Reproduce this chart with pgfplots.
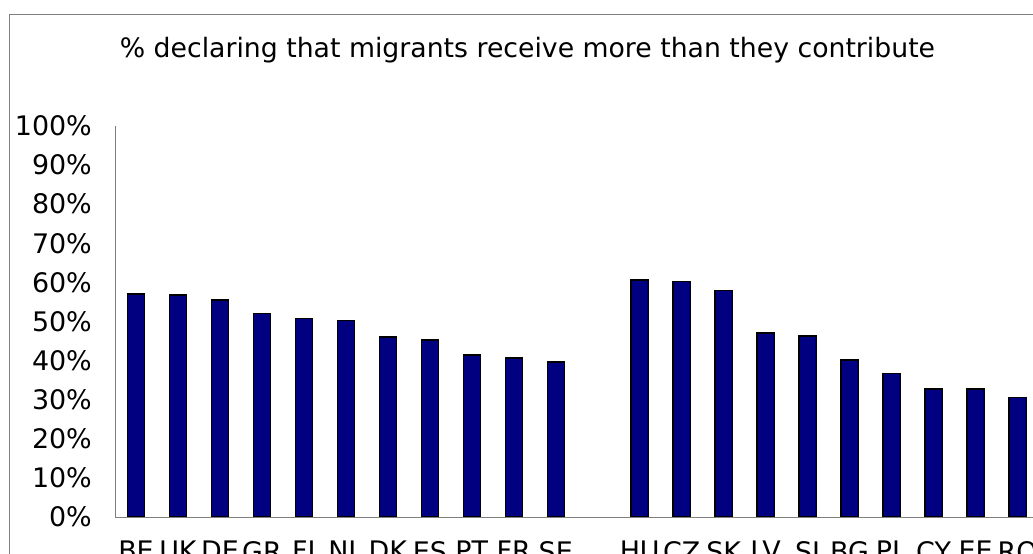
\documentclass[border=0pt]{standalone}
\usepackage{fontspec}
\setmainfont{DejaVu Sans}
\usepackage{pgfplots}
\pgfplotsset{compat=1.18}
\definecolor{barnavy}{RGB}{0,0,128}
\definecolor{framegray}{RGB}{128,128,128}
\begin{document}
\begin{tikzpicture}
\useasboundingbox (0bp,0bp) rectangle (1033bp,554bp);
\clip (0bp,0bp) rectangle (1033bp,554bp);
\fill[white] (0bp,0bp) rectangle (1033bp,554bp);
\draw[framegray, line width=1bp] (9bp,-20bp) rectangle (1060bp,539bp);
\node[anchor=base, inner sep=0pt, font=\fontsize{26.8}{30}\selectfont] at (527.5bp,496bp) {\% declaring that migrants receive more than they contribute};
\begin{axis}[
  at={(115bp,37bp)}, anchor=south west,
  scale only axis, width=923.5bp, height=391bp,
  xmin=-0.5, xmax=21.5, ymin=0, ymax=100,
  axis x line*=bottom, axis y line*=left,
  axis line style={framegray, line width=1bp},
  ytick={0,10,20,30,40,50,60,70,80,90,100},
  yticklabels={0\%,10\%,20\%,30\%,40\%,50\%,60\%,70\%,80\%,90\%,100\%},
  xtick={0,1,2,3,4,5,6,7,8,9,10,12,13,14,15,16,17,18,19,20,21},
  xticklabels={BE,UK,DE,GR,FI,NL,DK,ES,PT,FR,SE,HU,CZ,SK,LV,SI,BG,PL,CY,EE,RO},
  major tick length=0pt,
  tick label style={font=\fontsize{27}{30}\selectfont, inner sep=0pt},
  yticklabel style={xshift=-23bp},
  xticklabel style={yshift=-24bp},
  ybar, bar width=17bp,
]
\addplot[draw=black, fill=barnavy, line width=1.5bp] coordinates {
(0,57.0) (1,56.8) (2,55.5) (3,52.0) (4,50.8) (5,50.3) (6,46.0) (7,45.3) (8,41.4) (9,40.7) (10,39.6)
(12,60.6) (13,60.2) (14,57.9) (15,47.0) (16,46.3) (17,40.2) (18,36.7) (19,32.8) (20,32.8) (21,30.6)
};
\end{axis}
\end{tikzpicture}
\end{document}
